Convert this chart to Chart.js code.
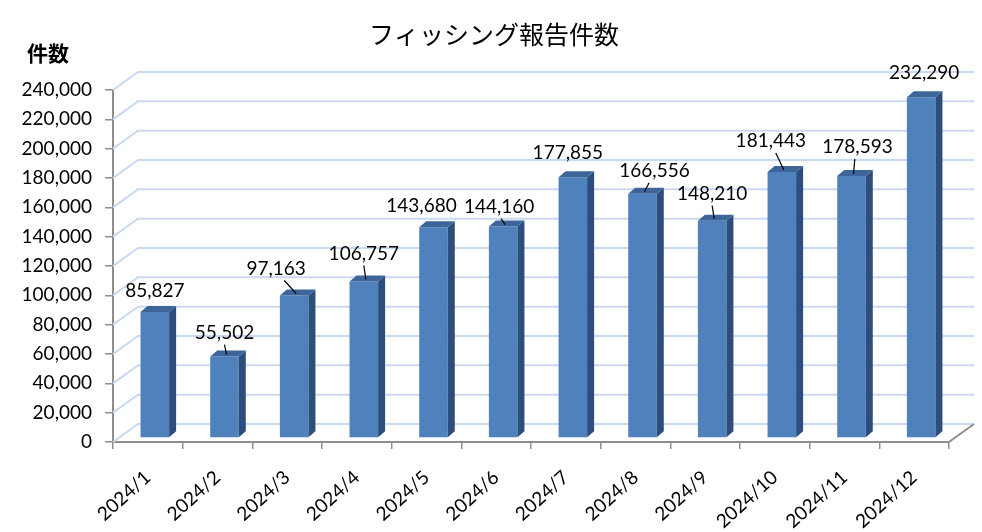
<!DOCTYPE html>
<html>
<head>
<meta charset="utf-8">
<script src="https://cdn.jsdelivr.net/npm/chart.js@4/dist/chart.umd.min.js"></script>
<style>
  html, body { margin: 0; padding: 0; background: #fff; }
  #wrap { width: 982px; height: 532px; position: relative; }
</style>
</head>
<body>
<div id="wrap"><canvas id="chart"></canvas></div>
<script>
const months = ["2024/1", "2024/2", "2024/3", "2024/4", "2024/5", "2024/6",
  "2024/7", "2024/8", "2024/9", "2024/10", "2024/11", "2024/12"];
const reports = [85827, 55502, 97163, 106757, 143680, 144160,
  177855, 166556, 148210, 181443, 178593, 232290];
const yMax = 240000;
const yStep = 20000;

// where each value label sits relative to its bar top (Excel hand placement)
const labelNudge = [[0, -21], [0, -24], [-18, -27], [0, -28], [-12, -21], [-4, -20],
  [-5, -24], [12, -23], [0, -27], [-11, -31], [6, -29], [3, -24]];
const leader = [false, true, true, true, false, true, false, true, true, true, true, false];

const WALL_DX = 25, WALL_DY = -18;   // back wall depth
const BAR_DX = 7, BAR_DY = -4;       // bars sit a little behind the front edge
const FACE_DX = 7, FACE_DY = -6;     // bar depth

const box3d = {
  id: "box3d",
  beforeDatasetsDraw(chart) {
    const { ctx, chartArea: a, scales: { y } } = chart;
    ctx.save();
    ctx.strokeStyle = "#C9DAF0";
    ctx.lineWidth = 2;
    for (let v = 0; v <= yMax; v += yStep) {
      const py = y.getPixelForValue(v);
      ctx.beginPath();
      ctx.moveTo(a.left, py);
      ctx.lineTo(a.left + WALL_DX, py + WALL_DY);
      ctx.lineTo(a.right + WALL_DX, py + WALL_DY);
      ctx.stroke();
    }
    ctx.strokeStyle = "#8E8E8E";
    ctx.beginPath();
    ctx.moveTo(a.right, a.bottom);
    ctx.lineTo(a.right + WALL_DX, a.bottom + WALL_DY);
    ctx.stroke();
    ctx.restore();
    ctx.save();
    ctx.translate(BAR_DX, BAR_DY);
  },
  afterDatasetsDraw(chart) {
    const { ctx } = chart;
    chart.getDatasetMeta(0).data.forEach(bar => {
      const l = bar.x - bar.width / 2, r = bar.x + bar.width / 2;
      const t = bar.y, b = bar.base;
      ctx.fillStyle = "#2D4E7C";
      ctx.beginPath();
      ctx.moveTo(r, t);
      ctx.lineTo(r + FACE_DX, t + FACE_DY);
      ctx.lineTo(r + FACE_DX, b + FACE_DY);
      ctx.lineTo(r, b);
      ctx.closePath();
      ctx.fill();
      ctx.fillStyle = "#3C659A";
      ctx.beginPath();
      ctx.moveTo(l, t);
      ctx.lineTo(l + FACE_DX, t + FACE_DY);
      ctx.lineTo(r + FACE_DX, t + FACE_DY);
      ctx.lineTo(r, t);
      ctx.closePath();
      ctx.fill();
    });
    ctx.restore();

    // value labels
    ctx.save();
    ctx.font = "19px Lato";
    ctx.fillStyle = "#000";
    ctx.textAlign = "center";
    ctx.textBaseline = "middle";
    chart.getDatasetMeta(0).data.forEach((bar, i) => {
      const bx = bar.x + BAR_DX, by = bar.y + BAR_DY;
      const lx = bx + labelNudge[i][0], ly = by + labelNudge[i][1];
      ctx.fillText(reports[i].toLocaleString("en-US"), lx, ly);
      if (leader[i]) {
        ctx.strokeStyle = "#000";
        ctx.lineWidth = 1.2;
        ctx.beginPath();
        ctx.moveTo(lx + (bx - lx) * 0.45, ly + 12);
        ctx.lineTo(bx + 2, by - 2);
        ctx.stroke();
      }
    });
    ctx.restore();
  },
  afterDraw(chart) {
    const { ctx } = chart;
    ctx.save();
    ctx.fillStyle = "#000";
    ctx.textAlign = "center";
    ctx.textBaseline = "middle";
    ctx.font = "25px 'Noto Sans CJK JP'";
    ctx.fillText("フィッシング報告件数", 494, 34);
    ctx.font = "bold 21px 'Noto Sans CJK JP'";
    ctx.fillText("件数", 48, 53);
    ctx.restore();
  }
};

new Chart(document.getElementById("chart"), {
  type: "bar",
  data: {
    labels: months,
    datasets: [{
      label: "件数",
      data: reports,
      backgroundColor: "#4F81BD",
      borderWidth: 0,
      barPercentage: 0.41,
      categoryPercentage: 1,
      clip: false
    }]
  },
  options: {
    responsive: true,
    maintainAspectRatio: false,
    animation: false,
    locale: "en-US",
    layout: { padding: { top: 90, right: 33, left: 0, bottom: 0 } },
    plugins: {
      legend: { display: false },
      title: { display: false },
      tooltip: { enabled: false }
    },
    scales: {
      x: {
        grid: { display: true, offset: true, drawOnChartArea: false, tickLength: 7, color: "#8E8E8E", lineWidth: 1.5 },
        border: { display: true, color: "#8E8E8E", width: 2 },
        ticks: { font: { family: "Lato", size: 19 }, color: "#000", minRotation: 42, maxRotation: 42, padding: 17 },
        afterFit(s) { s.height = 90; }
      },
      y: {
        min: 0,
        max: yMax,
        ticks: { stepSize: yStep, font: { family: "Lato", size: 19 }, color: "#000", padding: 13 },
        grid: { display: true, drawOnChartArea: false, tickLength: 8, color: "#8E8E8E", lineWidth: 1.5 },
        border: { display: true, color: "#8E8E8E", width: 2 },
        afterFit(s) { s.width = 113; }
      }
    }
  },
  plugins: [box3d]
});
</script>
</body>
</html>
